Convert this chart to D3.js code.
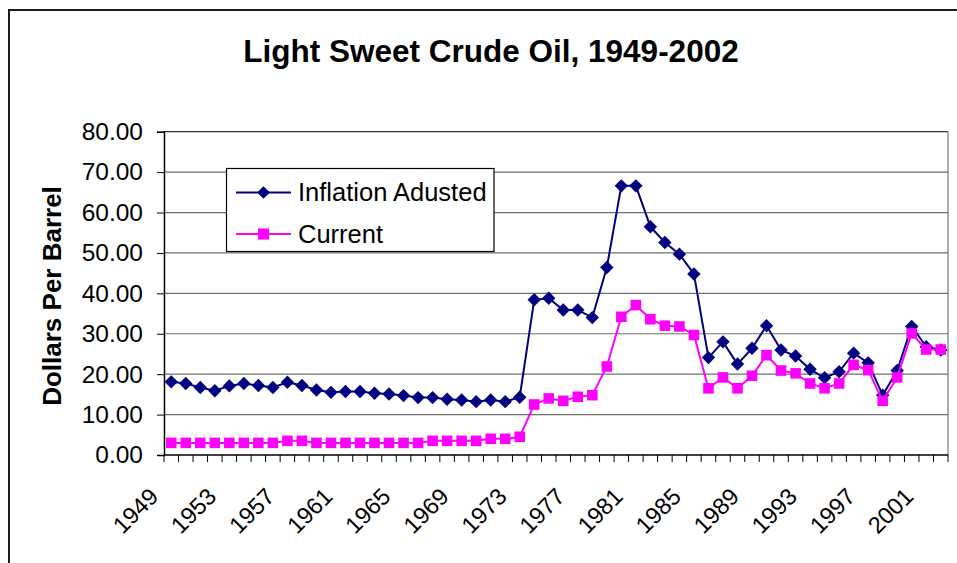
<!DOCTYPE html>
<html>
<head>
<meta charset="utf-8">
<script src="https://cdn.jsdelivr.net/npm/d3@7"></script>
<style>
  body { margin: 0; background: #fff; }
  svg { display: block; font-family: "Liberation Sans", Arial, sans-serif; }
</style>
</head>
<body>
<div id="chart"></div>
<script>
"use strict";

var years = [1949, 1950, 1951, 1952, 1953, 1954, 1955, 1956, 1957, 1958,
  1959, 1960, 1961, 1962, 1963, 1964, 1965, 1966, 1967, 1968,
  1969, 1970, 1971, 1972, 1973, 1974, 1975, 1976, 1977, 1978,
  1979, 1980, 1981, 1982, 1983, 1984, 1985, 1986, 1987, 1988,
  1989, 1990, 1991, 1992, 1993, 1994, 1995, 1996, 1997, 1998,
  1999, 2000, 2001, 2002];

var inflationAdjusted = [18.1, 17.7, 16.7, 15.9, 17.1, 17.7, 17.2, 16.7, 18.0, 17.2,
  16.1, 15.5, 15.7, 15.7, 15.3, 15.1, 14.7, 14.2, 14.2, 13.8,
  13.6, 13.2, 13.6, 13.2, 14.3, 38.4, 38.8, 35.9, 35.9, 34.0,
  46.4, 66.6, 66.6, 56.5, 52.6, 49.7, 44.8, 24.1, 28.0, 22.5,
  26.4, 32.0, 26.0, 24.5, 21.2, 19.1, 20.6, 25.2, 22.8, 14.8,
  20.9, 31.8, 26.8, 26.0];

var current = [3.0, 3.0, 3.0, 3.0, 3.0, 3.0, 3.0, 3.0, 3.5, 3.5,
  3.0, 3.0, 3.0, 3.0, 3.0, 3.0, 3.0, 3.0, 3.5, 3.5,
  3.5, 3.5, 4.0, 4.0, 4.5, 12.5, 14.0, 13.4, 14.4, 14.8,
  21.9, 34.2, 37.1, 33.6, 32.0, 31.8, 29.7, 16.5, 19.2, 16.5,
  19.6, 24.7, 20.9, 20.2, 17.7, 16.5, 17.7, 22.3, 21.0, 13.4,
  19.2, 30.1, 26.1, 26.1];

var yTicks = [0, 10, 20, 30, 40, 50, 60, 70, 80];
var xLabelYears = [1949, 1953, 1957, 1961, 1965, 1969, 1973, 1977, 1981, 1985, 1989, 1993, 1997, 2001];

var width = 957, height = 563;
var plot = { left: 164, right: 948, top: 131.7, bottom: 455 };

var svg = d3.select('#chart').append('svg')
  .attr('width', width)
  .attr('height', height);

// outer chart frame (runs off the right and bottom edges)
svg.append('path')
  .attr('d', 'M9,' + (height + 5) + 'V10H' + (width + 5))
  .attr('fill', 'none')
  .attr('stroke', '#1a1a1a')
  .attr('stroke-width', 2);

svg.append('text')
  .attr('x', 491)
  .attr('y', 61.5)
  .attr('text-anchor', 'middle')
  .attr('font-size', 31.5)
  .attr('font-weight', 'bold')
  .text('Light Sweet Crude Oil, 1949-2002');

var x = d3.scaleBand()
  .domain(years)
  .range([plot.left, plot.right])
  .padding(0);

var y = d3.scaleLinear()
  .domain([0, 80])
  .range([plot.bottom, plot.top]);

var cx = function (yr) { return x(yr) + x.bandwidth() / 2; };

// square-ish diamond like the Excel marker (d3's own diamond is tall and narrow)
var excelDiamond = {
  draw: function (context, size) {
    var r = Math.sqrt(size / 2);
    context.moveTo(0, -r);
    context.lineTo(r, 0);
    context.lineTo(0, r);
    context.lineTo(-r, 0);
    context.closePath();
  }
};

// gridlines
svg.append('g').selectAll('line')
  .data(yTicks.filter(function (d) { return d > 0; }))
  .enter()
  .append('line')
  .attr('x1', plot.left)
  .attr('x2', plot.right)
  .attr('y1', function (d) { return y(d); })
  .attr('y2', function (d) { return y(d); })
  .attr('stroke', function (d) { return d === 80 ? '#333' : '#6e6e6e'; })
  .attr('stroke-width', 1.2);

// right border of plot
svg.append('line')
  .attr('x1', plot.right).attr('x2', plot.right)
  .attr('y1', plot.top).attr('y2', plot.bottom)
  .attr('stroke', '#777')
  .attr('stroke-width', 1.2);

// y axis
var yAxis = svg.append('g')
  .attr('transform', 'translate(' + plot.left + ',0)')
  .call(d3.axisLeft(y).tickValues(yTicks).tickFormat(d3.format('.2f')).tickSize(7).tickPadding(14));
yAxis.select('.domain').attr('stroke', '#000').attr('stroke-width', 1.5);
yAxis.selectAll('.tick line').attr('stroke', '#000');
yAxis.selectAll('.tick text')
  .attr('font-size', 24.5)
  .attr('font-family', '"Liberation Sans", Arial, sans-serif')
  .attr('fill', '#000');

svg.append('text')
  .attr('transform', 'translate(61,296) rotate(-90)')
  .attr('text-anchor', 'middle')
  .attr('font-size', 26)
  .attr('font-weight', 'bold')
  .text('Dollars Per Barrel');

// x axis
svg.append('line')
  .attr('x1', plot.left).attr('x2', plot.right)
  .attr('y1', plot.bottom).attr('y2', plot.bottom)
  .attr('stroke', '#000')
  .attr('stroke-width', 1.5);

var tickPos = years.map(function (yr) { return x(yr); }).concat([plot.right]);
svg.append('g').selectAll('line')
  .data(tickPos)
  .enter()
  .append('line')
  .attr('x1', function (d) { return d; })
  .attr('x2', function (d) { return d; })
  .attr('y1', plot.bottom)
  .attr('y2', plot.bottom + 7)
  .attr('stroke', '#000');

svg.append('g').selectAll('text')
  .data(xLabelYears)
  .enter()
  .append('text')
  .attr('transform', function (d) { return 'translate(' + (cx(d) - 11.5) + ',498) rotate(-45)'; })
  .attr('text-anchor', 'end')
  .attr('font-size', 23.5)
  .text(function (d) { return d; });

// series
var lineGen = d3.line()
  .x(function (d) { return cx(d.year); })
  .y(function (d) { return y(d.value); });

var toPoints = function (values) {
  return years.map(function (yr, i) { return { year: yr, value: values[i] }; });
};

var series = [
  { name: 'Inflation Adusted', values: inflationAdjusted, color: '#000080', symbol: excelDiamond, size: 90, legendSize: 80 },
  { name: 'Current', values: current, color: '#ff00ff', symbol: d3.symbolSquare, size: 112, legendSize: 125 }
];

series.forEach(function (s) {
  var pts = toPoints(s.values);
  var g = svg.append('g');
  g.append('path')
    .datum(pts)
    .attr('d', lineGen)
    .attr('fill', 'none')
    .attr('stroke', s.color)
    .attr('stroke-width', 2);
  g.selectAll('path.mark')
    .data(pts)
    .enter()
    .append('path')
    .classed('mark', true)
    .attr('d', d3.symbol().type(s.symbol).size(s.size))
    .attr('transform', function (d) { return 'translate(' + cx(d.year) + ',' + y(d.value) + ')'; })
    .attr('fill', s.color);
});

// legend
var legend = svg.append('g');
legend.append('rect')
  .attr('x', 226.5)
  .attr('y', 168.5)
  .attr('width', 267.5)
  .attr('height', 83)
  .attr('fill', '#fff')
  .attr('stroke', '#000')
  .attr('stroke-width', 1.2);

series.forEach(function (s, i) {
  var ly = 192.5 + i * 41.5;
  legend.append('line')
    .attr('x1', 236).attr('x2', 291)
    .attr('y1', ly).attr('y2', ly)
    .attr('stroke', s.color)
    .attr('stroke-width', 2);
  legend.append('path')
    .attr('d', d3.symbol().type(s.symbol).size(s.legendSize)())
    .attr('transform', 'translate(263.5,' + ly + ')')
    .attr('fill', s.color);
  legend.append('text')
    .attr('x', 298)
    .attr('y', ly)
    .attr('dy', '0.35em')
    .attr('font-size', 25.5)
    .text(s.name);
});
</script>
</body>
</html>
